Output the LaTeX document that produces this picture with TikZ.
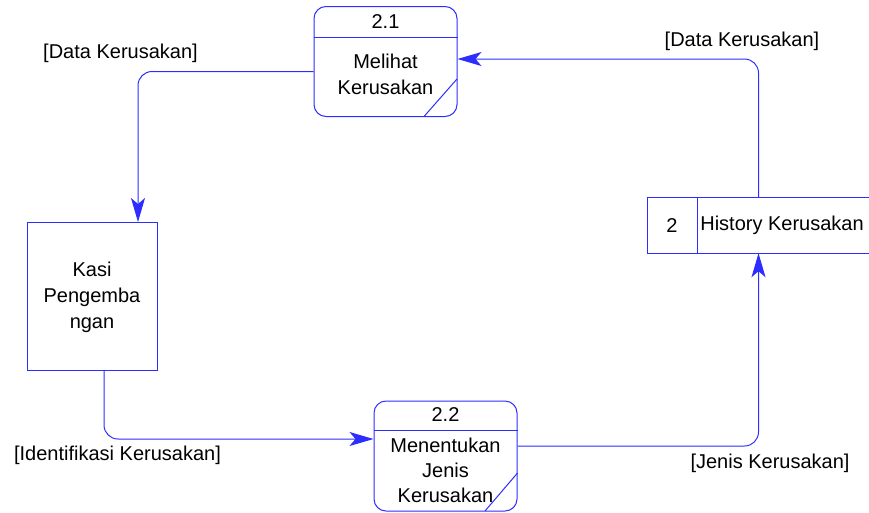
\documentclass[tikz,border=0pt]{standalone}
\usepackage{fontspec}
\setmainfont{Liberation Sans}
\usetikzlibrary{arrows.meta}
\definecolor{dfdblue}{RGB}{45,45,255}

\begin{document}
\begin{tikzpicture}[x=1pt,y=-1pt,
  every node/.style={font=\fontsize{20}{26}\selectfont, inner sep=0pt},
  dfd/.style={draw=dfdblue,line width=1pt},
  proc/.style={dfd,rounded corners=12pt,minimum width=143pt,minimum height=110pt},
  flow/.style={dfd,rounded corners=14pt,-{Stealth[length=24pt,width=14pt,inset=6pt]}}]
\useasboundingbox (0,0) rectangle (869,512);
% processes
\node[proc] (p21) at (385.5,61.5) {};
\node (p21num) at (385.5,22) {2.1};
\node[align=center] (p21txt) at (385.5,74) {Melihat\\Kerusakan};
\draw[dfd] (p21.west |- 0,37) -- (p21.east |- 0,37);
\draw[dfd] (457,79) -- (424,116.5);
\node[proc] (p22) at (445.5,456) {};
\node (p22num) at (445.5,415) {2.2};
\node[align=center,font=\fontsize{20}{25}\selectfont] (p22txt) at (445.5,470) {Menentukan\\Jenis\\Kerusakan};
\draw[dfd] (p22.west |- 0,430) -- (p22.east |- 0,430);
\draw[dfd] (517.5,473) -- (485,511);
% external entity
\node[dfd,minimum width=130pt,minimum height=148pt] (kasi) at (92,296.5) {};
\node[align=center] (kasitxt) at (92,297) {Kasi\\Pengemba\\ngan};
% data store
\node[minimum width=221pt,minimum height=55pt] (store) at (758.5,225.5) {};
\draw[dfd] (store.north east) -- (store.north west) -- (store.south west) -- (store.south east);
\draw[dfd] (697,198) -- (697,253);
\node (storenum) at (672,225.5) {2};
\node (storetxt) at (782,225.5) {History Kerusakan};
% flows
\draw[flow] ([yshift=-10pt]p21.west) -| ([xshift=46pt]kasi.north);
\draw[flow] ([xshift=12pt]kasi.south) |- ([yshift=17pt]p22.west);
\draw[flow] ([yshift=10pt]p22.east) -| (store.south);
\draw[flow] (store.north) |- ([yshift=2.5pt]p21.east);
% labels
\node (lbldata1) at (120.5,53) {[Data Kerusakan]};
\node (lbldata2) at (742,41) {[Data Kerusakan]};
\node (lblident) at (117.5,455) {[Identifikasi Kerusakan]};
\node (lbljenis) at (770,463) {[Jenis Kerusakan]};
\end{tikzpicture}
\end{document}
